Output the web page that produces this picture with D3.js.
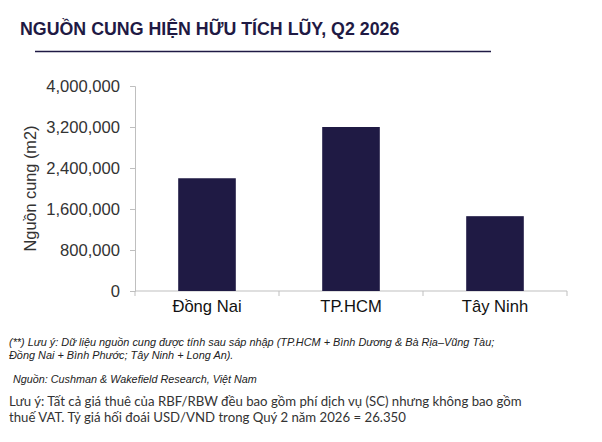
<!DOCTYPE html>
<html>
<head>
<meta charset="utf-8">
<script src="https://cdn.jsdelivr.net/npm/d3@7"></script>
<style>
  body { margin: 0; background: #fff; }
  svg { display: block; }
</style>
</head>
<body>
<div id="container"></div>
<script>
/* DATA */
const categories = ["Đồng Nai", "TP.HCM", "Tây Ninh"];
const supply = [2200000, 3200000, 1460000];
const yTicks = [0, 800000, 1600000, 2400000, 3200000, 4000000];

const titleText = "NGUỒN CUNG HIỆN HỮU TÍCH LŨY, Q2 2026";
const yTitle = "Nguồn cung (m2)";
const noteLines = [
  "(**) Lưu ý: Dữ liệu nguồn cung được tính sau sáp nhập (TP.HCM + Bình Dương & Bà Rịa–Vũng Tàu;",
  "Đồng Nai + Bình Phước; Tây Ninh + Long An)."
];
const sourceText = "Nguồn: Cushman & Wakefield Research, Việt Nam";
const rentLines = [
  "Lưu ý: Tất cả giá thuê của RBF/RBW đều bao gồm phí dịch vụ (SC) nhưng không bao gồm",
  "thuế VAT. Tỷ giá hối đoái USD/VND trong Quý 2 năm 2026 = 26.350"
];

/* CONSTANTS */
const width = 602, height = 442;
const margin = {top: 86, bottom: 151, left: 135, right: 35};
const navy = "#1f1a44";
const axisGray = "#bfbfbf";
const sans = "Liberation Sans, Arial, sans-serif";

const svg = d3.select("#container")
  .append("svg")
  .attr("width", width)
  .attr("height", height);

// title + rule
svg.append("text")
  .attr("x", 20)
  .attr("y", 35)
  .attr("font-family", sans)
  .attr("font-weight", "bold")
  .attr("font-size", 17.8)
  .attr("fill", navy)
  .text(titleText);

svg.append("line")
  .attr("x1", 35).attr("x2", 491)
  .attr("y1", 51.5).attr("y2", 51.5)
  .attr("stroke", navy)
  .attr("stroke-width", 1.5);

/* SCALES */
const xScale = d3.scaleBand()
  .domain(categories)
  .range([margin.left, width - margin.right])
  .paddingInner(0.6)
  .paddingOuter(0.3);

const yScale = d3.scaleLinear()
  .domain([0, 4000000])
  .range([height - margin.bottom, margin.top]);

/* AXES */
const yAxis = d3.axisLeft(yScale)
  .tickValues(yTicks)
  .tickFormat(d3.format(","))
  .tickSize(5)
  .tickPadding(10);

const yAxisGroup = svg.append("g")
  .attr("transform", `translate(${margin.left},0)`)
  .call(yAxis);

yAxisGroup.select(".domain").attr("stroke", axisGray);
yAxisGroup.selectAll(".tick line").attr("stroke", axisGray);
yAxisGroup.selectAll(".tick text")
  .attr("font-family", sans)
  .attr("font-size", 16.6)
  .attr("fill", "#333");

// x axis: baseline plus small ticks between the categories
const x0 = height - margin.bottom;
const xAxisGroup = svg.append("g");
xAxisGroup.append("line")
  .attr("x1", margin.left).attr("x2", width - margin.right)
  .attr("y1", x0).attr("y2", x0)
  .attr("stroke", axisGray);

const step = xScale.step();
const boundaries = d3.range(categories.length + 1)
  .map(i => xScale.range()[0] + i * step);
xAxisGroup.selectAll("line.sep")
  .data(boundaries)
  .join("line")
  .attr("class", "sep")
  .attr("x1", d => d).attr("x2", d => d)
  .attr("y1", x0).attr("y2", x0 + 5)
  .attr("stroke", axisGray);

xAxisGroup.selectAll("text")
  .data(categories)
  .join("text")
  .attr("x", d => xScale(d) + xScale.bandwidth() / 2)
  .attr("y", x0 + 21)
  .attr("text-anchor", "middle")
  .attr("font-family", sans)
  .attr("font-size", 16.6)
  .attr("fill", "#111")
  .text(d => d);

// y title
svg.append("text")
  .attr("transform", `translate(36,${(margin.top + x0) / 2}) rotate(-90)`)
  .attr("text-anchor", "middle")
  .attr("font-family", sans)
  .attr("font-size", 16.3)
  .attr("fill", "#333")
  .text(yTitle);

/* BARS */
svg.selectAll("rect.bar")
  .data(categories.map((c, i) => ({cat: c, value: supply[i]})))
  .join("rect")
  .attr("class", "bar")
  .attr("x", d => xScale(d.cat))
  .attr("width", xScale.bandwidth())
  .attr("y", d => yScale(d.value))
  .attr("height", d => yScale(0) - yScale(d.value))
  .attr("fill", navy);

/* NOTES */
svg.selectAll("text.note")
  .data(noteLines)
  .join("text")
  .attr("class", "note")
  .attr("x", 9)
  .attr("y", (d, i) => 346 + i * 12.5)
  .attr("font-family", sans)
  .attr("font-style", "italic")
  .attr("font-size", 10.9)
  .attr("fill", "#222")
  .text(d => d);

svg.append("text")
  .attr("x", 13)
  .attr("y", 383)
  .attr("font-family", sans)
  .attr("font-style", "italic")
  .attr("font-size", 10.8)
  .attr("fill", "#222")
  .text(sourceText);

svg.selectAll("text.rent")
  .data(rentLines)
  .join("text")
  .attr("class", "rent")
  .attr("x", 9)
  .attr("y", (d, i) => 406 + i * 16)
  .attr("font-family", "Lato, Open Sans, sans-serif")
  .attr("font-size", 13.2)
  .attr("fill", "#333")
  .text(d => d);
</script>
</body>
</html>
